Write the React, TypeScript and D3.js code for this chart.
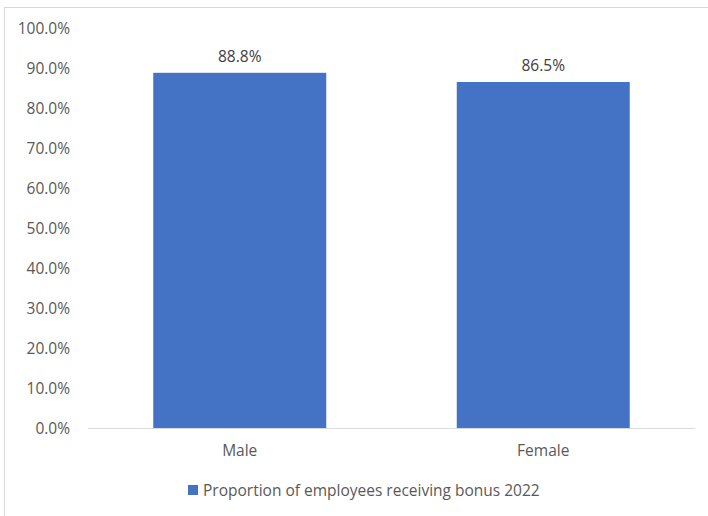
import React from "react";
import * as d3 from "d3";

const categories = ["Male", "Female"];
const values = [88.8, 86.5];
const yTicks = [0, 10, 20, 30, 40, 50, 60, 70, 80, 90, 100];
const seriesName = "Proportion of employees receiving bonus 2022";

const W = 708;
const H = 516;
const FONT = "'Open Sans', Lato, sans-serif";
const TEXT = "#595959";
const BAR = "#4472C4";
const FS = 15.5;

export default function App() {
  const x = d3
    .scaleBand<string>()
    .domain(categories)
    .range([88, 695])
    .paddingInner(0.43)
    .paddingOuter(0.215);
  const y = d3.scaleLinear().domain([0, 100]).range([428, 28]);

  return (
    <svg
      width={W}
      height={H}
      style={{ position: "absolute", left: 0, top: 0, background: "#fff" }}
      fontFamily={FONT}
    >
      <rect x={4.5} y={7.5} width={W + 20} height={H + 20} fill="#fff" stroke="#d9d9d9" />
      {yTicks.map((t) => (
        <text
          key={t}
          x={70}
          y={y(t)}
          textAnchor="end"
          dominantBaseline="central"
          fontSize={FS}
          fill={TEXT}
        >
          {t.toFixed(1) + "%"}
        </text>
      ))}
      {categories.map((c, i) => (
        <g key={c}>
          <rect
            x={x(c)}
            y={y(values[i])}
            width={x.bandwidth()}
            height={y(0) - y(values[i])}
            fill={BAR}
          />
          <text
            x={(x(c) as number) + x.bandwidth() / 2}
            y={y(values[i]) - 17}
            textAnchor="middle"
            dominantBaseline="central"
            fontSize={FS}
            fill="#404040"
          >
            {values[i].toFixed(1) + "%"}
          </text>
          <text
            x={(x(c) as number) + x.bandwidth() / 2}
            y={450}
            textAnchor="middle"
            dominantBaseline="central"
            fontSize={FS}
            fill={TEXT}
          >
            {c}
          </text>
        </g>
      ))}
      <line x1={88} x2={695} y1={y(0) + 0.5} y2={y(0) + 0.5} stroke="#d9d9d9" strokeWidth={1} />
      <rect x={188} y={485} width={10} height={10} fill={BAR} />
      <text x={203} y={490} dominantBaseline="central" fontSize={FS} fill={TEXT}>
        {seriesName}
      </text>
    </svg>
  );
}
